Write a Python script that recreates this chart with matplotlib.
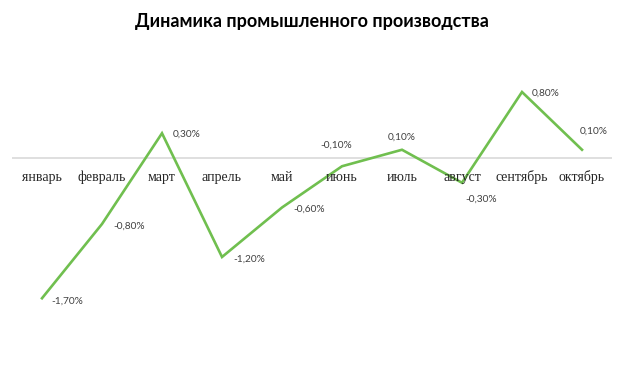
import matplotlib.pyplot as plt

# Данные
months = ["январь", "февраль", "март", "апрель", "май",
          "июнь", "июль", "август", "сентябрь", "октябрь"]
values = [-1.7, -0.8, 0.3, -1.2, -0.6, -0.1, 0.1, -0.3, 0.8, 0.1]
labels = ["-1,70%", "-0,80%", "0,30%", "-1,20%", "-0,60%",
          "-0,10%", "0,10%", "-0,30%", "0,80%", "0,10%"]

# Смещения подписей (пиксели) и выравнивание
label_offsets = [(9, -3), (11, -2), (11, -1), (11, -2), (11, -2),
                 (-6, 21), (0, 13), (19, -16), (10, -1), (12, 19)]
label_ha = ["left", "left", "left", "left", "left",
            "center", "center", "center", "left", "center"]

W, H = 620, 381
fig = plt.figure(figsize=(W / 100, H / 100), dpi=100)

# Оси: x от 12 до 612 пикселей, ноль на y=158, 82.5 пикселя на единицу
top_px, bot_px = 40, 340
zero_px, scale = 158, 82.5
ax = fig.add_axes([12 / W, 1 - bot_px / H, 600 / W, (bot_px - top_px) / H])
ax.set_xlim(-0.5, len(months) - 0.5)
ax.set_ylim(-(bot_px - zero_px) / scale, (zero_px - top_px) / scale)
ax.axis("off")

ax.axhline(0, color="#d9d9d9", linewidth=1.2, zorder=1)

x = list(range(len(months)))
ax.plot(x, values, color="#70bf4f", linewidth=1.9, zorder=3,
        solid_joinstyle="miter")

for i, m in enumerate(months):
    ax.annotate(m, (i, 0), xytext=(0, -19), textcoords="offset pixels",
                ha="center", va="center", fontsize=10,
                family="Liberation Serif", color="#262626")

for i, (v, lab) in enumerate(zip(values, labels)):
    dx, dy = label_offsets[i]
    ax.annotate(lab, (i, v), xytext=(dx, dy), textcoords="offset pixels",
                ha=label_ha[i], va="center", fontsize=7.3,
                family="Lato", color="#404040")

fig.text(312 / W, 1 - 21 / H, "Динамика промышленного производства",
         ha="center", va="center", fontsize=13, fontweight="bold",
         family="Lato", color="#000000")

fig.savefig("out.png", dpi=100)
